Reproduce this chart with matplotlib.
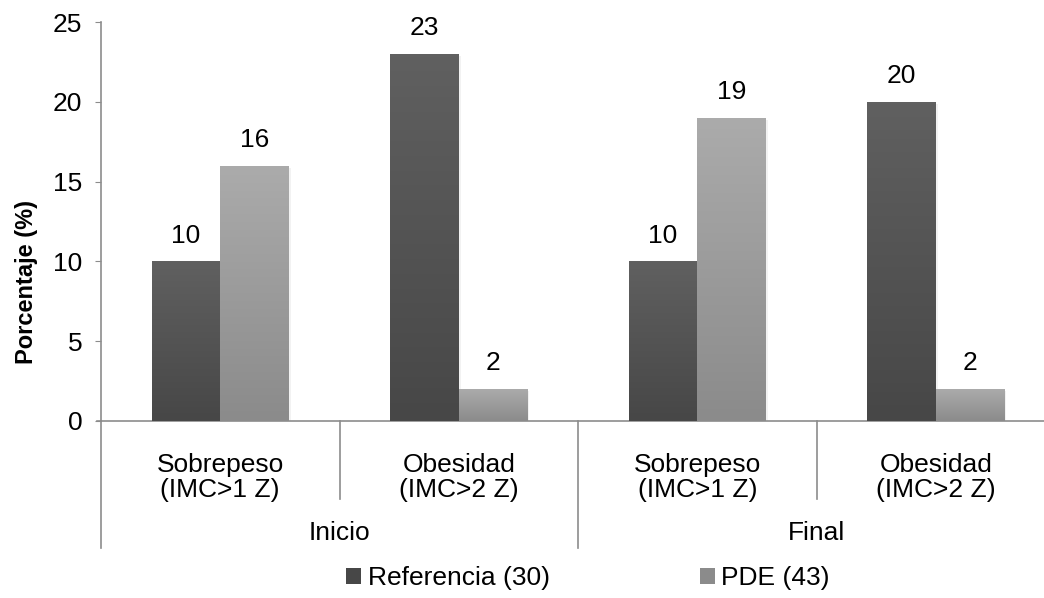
import numpy as np
import matplotlib.pyplot as plt
from matplotlib.patches import Patch
from matplotlib.colors import LinearSegmentedColormap

plt.rcParams['font.family'] = ['Liberation Sans', 'DejaVu Sans']

# categories: two measurements (Inicio / Final) x two conditions
periods = ['Inicio', 'Final']
conditions = ['Sobrepeso\n(IMC>1 Z)', 'Obesidad\n(IMC>2 Z)']
referencia = [10, 23, 10, 20]
pde = [16, 2, 19, 2]
series_names = ['Referencia (30)', 'PDE (43)']

W, H = 1044, 598
fig = plt.figure(figsize=(W / 100, H / 100), dpi=100)
ax = fig.add_axes([101 / W, 177 / H, 954 / W, 399 / H])

axis_col = '#8c8c8c'
dark = ('#606060', '#474747')
light = ('#ababab', '#8b8b8b')
fs = 19

x = np.arange(len(referencia))
bw = 0.287


def gradient_bars(xs, vals, cols):
    bars = ax.bar(xs, vals, bw, color=cols[1], zorder=3, linewidth=0)
    cmap = LinearSegmentedColormap.from_list('g', [cols[1], cols[0]])
    for b in bars:
        x0, y0 = b.get_x(), b.get_y()
        w, h = b.get_width(), b.get_height()
        # faint drop shadow
        ax.bar(x0 + w / 2 + 0.006, h, w + 0.006, bottom=-0.12, color='k',
               alpha=0.05, zorder=2, linewidth=0)
        grad = np.linspace(0, 1, 100).reshape(-1, 1)
        im = ax.imshow(grad, cmap=cmap, origin='lower', aspect='auto',
                       extent=[x0, x0 + w, y0, y0 + h], zorder=4)
        im.set_clip_path(b)
    for xi, v in zip(xs, vals):
        ax.annotate(f'{v}', (xi, v), xytext=(0, 10), textcoords='offset points',
                    ha='center', va='bottom', fontsize=fs)
    return bars


gradient_bars(x - bw / 2, referencia, dark)
gradient_bars(x + bw / 2, pde, light)

ax.set_xlim(-0.5, 3.5)
ax.set_ylim(0, 25)
ax.set_yticks(range(0, 26, 5))
ax.set_xticks([])
ax.tick_params(axis='y', direction='out', length=4.5, color=axis_col,
               labelsize=fs, pad=9)
for s in ['top', 'right', 'left']:
    ax.spines[s].set_visible(False)
ax.spines['bottom'].set_color(axis_col)
ax.spines['bottom'].set_linewidth(1.2)

trans = ax.get_xaxis_transform()
# left axis running down through the category area
ax.plot([-0.5, -0.5], [1, -0.318], color=axis_col, lw=1.2, transform=trans,
        clip_on=False)
ax.plot([-0.515, -0.5], [0, 0], color=axis_col, lw=1.2, transform=trans,
        clip_on=False)
for xd in [0.5, 2.5]:
    ax.plot([xd, xd], [0, -0.195], color=axis_col, lw=1.2, transform=trans,
            clip_on=False)
for xd in [1.5, 3.5]:
    ax.plot([xd, xd], [0, -0.318], color=axis_col, lw=1.2, transform=trans,
            clip_on=False)

for i, xi in enumerate(x):
    ax.text(xi, -0.08, conditions[i % 2], transform=trans, ha='center',
            va='top', fontsize=fs, linespacing=1.05)
for j, p in enumerate(periods):
    ax.text(2 * j + 0.5, -0.28, p, transform=trans, ha='center',
            va='center', fontsize=fs)

ax.set_ylabel('Porcentaje (%)', fontsize=17, fontweight='bold')
ax.yaxis.set_label_coords(-0.066, 0.348)

handles = [Patch(facecolor=dark[1], edgecolor='none'),
           Patch(facecolor=light[1], edgecolor='none')]
fig.legend(handles, series_names, loc='center', bbox_to_anchor=(588 / W, 20 / H),
           ncol=2, frameon=False, fontsize=fs, handlelength=0.57,
           handleheight=0.57, handletextpad=0.23, columnspacing=5.7)

fig.savefig('out.png', dpi=100)
